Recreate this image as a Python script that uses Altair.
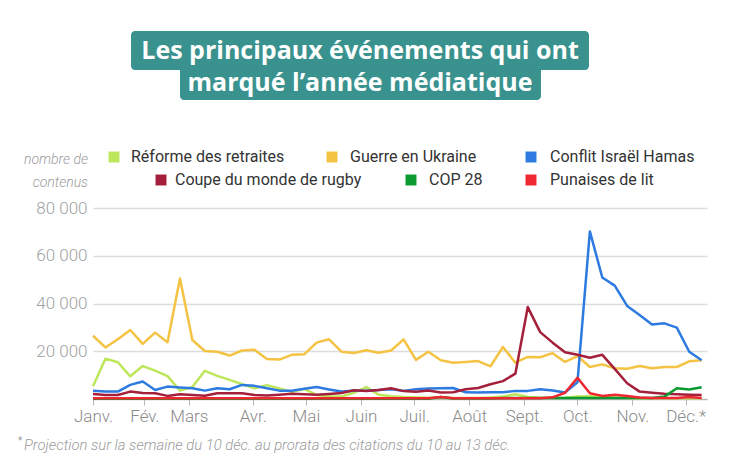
import json
import altair as alt
import pandas as pd

# ---------------- data ----------------
weeks = pd.date_range("2023-01-01", periods=50, freq="7D").strftime("%Y-%m-%d").tolist()

series_names = ["Réforme des retraites", "Guerre en Ukraine", "Conflit Israël Hamas",
                "Coupe du monde de rugby", "COP 28", "Punaises de lit"]
series_colors = ["#bde65a", "#f5c343", "#2d7be0", "#a4203a", "#0a9a30", "#ee2730"]

reforme = [5.3, 16.9, 15.4, 9.5, 13.8, 11.9, 9.6, 3.5, 5.0, 11.8, 9.7, 8.0, 6.2, 4.5, 5.8, 4.4,
           3.0, 4.2, 1.7, 1.0, 1.0, 2.6, 5.0, 1.8, 1.2, 0.8, 0.6, 0.5, 0.5, 0.4, 0.4, 0.4, 0.6,
           1.0, 2.0, 0.8, 0.5, 0.4, 0.5, 1.0, 1.2, 1.0, 0.6, 0.4, 0.3, 0.3, 0.3, 0.3, 0.3, 0.3]
ukraine = [26.5, 21.6, 25.0, 28.9, 23.1, 27.8, 23.8, 50.5, 24.7, 20.1, 19.8, 18.2, 20.3, 20.6,
           16.8, 16.5, 18.5, 18.7, 23.6, 25.0, 19.8, 19.3, 20.4, 19.4, 20.3, 25.0, 16.4, 19.8,
           16.2, 15.2, 15.5, 15.9, 13.7, 21.8, 15.2, 17.6, 17.5, 19.2, 15.5, 18.0, 13.4, 14.5,
           12.9, 12.7, 13.8, 12.9, 13.4, 13.4, 15.8, 16.2]
hamas = [3.5, 3.1, 3.1, 5.9, 7.3, 3.8, 5.2, 4.8, 4.5, 3.5, 4.5, 4.1, 5.9, 5.5, 4.5, 3.5, 3.5,
         4.3, 5.0, 4.0, 3.1, 3.5, 3.5, 3.8, 4.1, 3.4, 4.1, 4.4, 4.5, 4.6, 2.8, 2.7, 2.8, 2.8,
         3.4, 3.4, 4.1, 3.6, 2.7, 7.0, 70.2, 50.9, 47.5, 39.0, 35.2, 31.2, 31.7, 29.9, 19.8, 16.2]
rugby = [2.1, 1.7, 1.7, 3.1, 2.5, 2.4, 1.3, 2.0, 1.7, 1.4, 2.4, 2.4, 2.4, 1.7, 1.5, 1.8, 2.2,
         2.0, 1.8, 2.1, 2.5, 3.7, 3.4, 3.8, 4.5, 3.3, 3.0, 3.6, 2.7, 2.8, 4.1, 4.6, 6.2, 7.5,
         10.6, 38.5, 28.0, 23.6, 19.6, 18.5, 17.3, 18.5, 12.6, 6.6, 3.1, 2.6, 2.2, 2.0, 1.8, 1.7]
cop28 = [0.1] * 28 + [0.8, 0.2, 0.2, 0.2, 0.2, 0.4, 0.4, 0.4, 0.4, 0.4, 0.4, 0.4, 0.4, 0.4,
                      0.4, 0.4, 0.4, 0.4, 1.0, 4.5, 4.0, 4.9]
punaises = [0.3] * 28 + [0.8, 0.3, 0.3, 0.3, 0.3, 0.3, 0.3, 0.3, 0.3, 0.7, 2.6, 8.9, 2.4, 1.3,
                         1.8, 1.3, 0.6, 0.4, 0.4, 0.4, 0.8, 0.4]

series_values = [reforme, ukraine, hamas, rugby, cop28, punaises]

month_labels = ["Janv.", "Fév.", "Mars", "Avr.", "Mai", "Juin", "Juil.", "Août",
                "Sept.", "Oct.", "Nov.", "Déc.*"]
# (month, day) of each tick, as placed on the original axis
tick_dates = [(1, 1), (1, 30), (2, 24), (4, 1), (5, 1), (6, 1), (7, 1), (8, 1),
              (9, 1), (10, 1), (11, 1), (12, 1)]
y_ticks = [20000, 40000, 60000, 80000]

title_lines = ["Les principaux événements qui ont", "marqué l’année médiatique"]
y_caption = ["nombre de", "contenus"]
footnote = "Projection sur la semaine du 10 déc. au prorata des citations du 10 au 13 déc."

# ---------------- chart ----------------
W, H = 614, 191
GREY = "#9b9b9b"
FONT = "Roboto"

x_scale = alt.Scale(type="utc", domain=[alt.DateTime(year=2023, month=1, date=1, utc=True),
                                        alt.DateTime(year=2023, month=12, date=13, utc=True)])
y_scale = alt.Scale(domain=[0, 80000], nice=False)

label_expr = (json.dumps(month_labels, ensure_ascii=False)
              + "[utcdate(datum.value) > 15 ? utcmonth(datum.value) + 1 : utcmonth(datum.value)]")

x_axis = alt.Axis(values=[alt.DateTime(year=2023, month=m, date=d, utc=True) for m, d in tick_dates],
                  labelExpr=label_expr, title=None, grid=False, labelFlush=False,
                  labelBound=False, labelAlign="center",
                  domainColor="#b5b5b5", domainWidth=1.5, tickColor="#b5b5b5", tickSize=6,
                  tickWidth=1, labelFont=FONT, labelFontSize=17, labelFontWeight=300,
                  labelColor="#8a8a8a", labelPadding=3, labelOverlap=False)
y_axis = alt.Axis(values=y_ticks, title=None, domain=False, ticks=False,
                  labelExpr="replace(format(datum.value, ','), ',', ' ')",
                  gridColor="#dcdcdc", gridWidth=1.5, labelFont=FONT, labelFontSize=17,
                  labelFontWeight=300, labelColor="#a0a0a0", labelPadding=6)

layers = []
for name, col, vals in zip(series_names, series_colors, series_values):
    d = pd.DataFrame({"week": weeks, "value": [v * 1000 for v in vals], "series": name})
    layers.append(alt.Chart(d).mark_line(color=col, strokeWidth=2.5, strokeJoin="round").encode(
        x=alt.X("week:T", scale=x_scale, axis=x_axis),
        y=alt.Y("value:Q", scale=y_scale, axis=y_axis)))

one = pd.DataFrame({"a": [0]})


def box(x1, x2, y1, y2, color):
    return alt.Chart(one).mark_rect(color=color, cornerRadius=4).encode(
        x=alt.value(x1), x2=alt.value(x2), y=alt.value(y1), y2=alt.value(y2))


def txt(s, x, y, **kw):
    return alt.Chart(one).mark_text(**kw).encode(x=alt.value(x), y=alt.value(y), text=alt.value(s))


OX, OY = 93, 208  # page position of plot origin
TEAL = "#3a928e"
ann = [
    box(131 - OX, 589 - OX, 31 - OY, 70 - OY, TEAL),
    box(180 - OX, 541 - OX, 66 - OY, 100 - OY, TEAL),
    txt(title_lines[0], 360 - OX, 51 - OY, font="Open Sans", fontSize=25, fontWeight="bold",
        color="white", align="center", baseline="middle"),
    txt(title_lines[1], 360 - OX, 83 - OY, font="Open Sans", fontSize=25, fontWeight="bold",
        color="white", align="center", baseline="middle"),
    txt(y_caption[0], 88 - OX, 160 - OY, font=FONT, fontSize=14, fontStyle="italic",
        fontWeight=300, color=GREY, align="right", baseline="middle"),
    txt(y_caption[1], 88 - OX, 183 - OY, font=FONT, fontSize=14, fontStyle="italic",
        fontWeight=300, color=GREY, align="right", baseline="middle"),
    txt("*", 18 - OX, 441 - OY, font=FONT, fontSize=10, color=GREY, align="left", baseline="middle"),
    txt(footnote, 24 - OX, 446 - OY, font=FONT, fontSize=14.8, fontStyle="italic", fontWeight=300,
        color=GREY, align="left", baseline="middle"),
]

legend_sq_x = [114, 332, 531, 161, 411, 531]
legend_tx_x = [131, 350, 550, 175, 429, 550]
legend_y = [157, 157, 157, 180, 180, 180]
for name, col, sx, tx, ly in zip(series_names, series_colors, legend_sq_x, legend_tx_x, legend_y):
    ann.append(alt.Chart(one).mark_square(color=col, opacity=1, size=120).encode(
        x=alt.value(sx - OX), y=alt.value(ly - OY)))
    ann.append(txt(name, tx - OX, ly - OY, font=FONT, fontSize=16, color="#333333",
                   align="left", baseline="middle"))

chart = alt.layer(*layers, *ann).properties(
    width=W, height=H,
    padding={"left": 85, "top": 200, "right": 21, "bottom": 57},
    autosize=alt.AutoSizeParams(type="none"),
).configure_view(stroke=None)

chart.save("out.html", embed_options={"renderer": "svg", "actions": False})
